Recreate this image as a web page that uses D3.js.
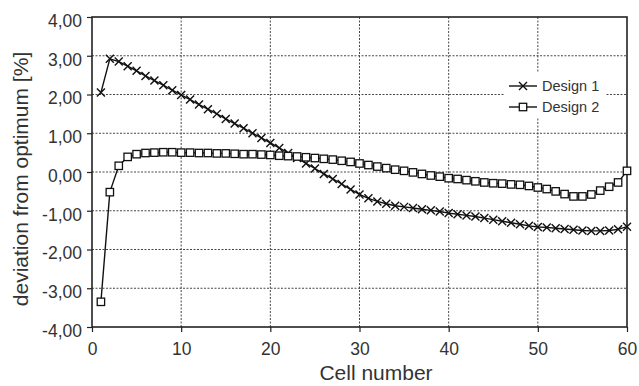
<!DOCTYPE html>
<html>
  <script src="https://cdn.jsdelivr.net/npm/d3@7"></script>
  <style>
    body { margin: 0; background: #fff; }
    text { font-family: "Liberation Sans", Arial, sans-serif; fill: #333; }
  </style>
  <body>
    <script>
var cells = d3.range(1, 61)
var design1 = [2.05, 2.92, 2.85, 2.73, 2.61, 2.48, 2.36, 2.24, 2.11, 1.99,
  1.87, 1.74, 1.62, 1.50, 1.37, 1.25, 1.13, 1.00, 0.88, 0.75,
  0.62, 0.49, 0.36, 0.22, 0.09, -0.05, -0.18, -0.31, -0.45, -0.58,
  -0.68, -0.76, -0.82, -0.87, -0.90, -0.93, -0.96, -0.99, -1.02, -1.06,
  -1.09, -1.12, -1.15, -1.19, -1.23, -1.27, -1.31, -1.35, -1.39, -1.42,
  -1.43, -1.45, -1.47, -1.49, -1.51, -1.52, -1.52, -1.51, -1.48, -1.41]
var design2 = [-3.35, -0.52, 0.16, 0.39, 0.46, 0.49, 0.50, 0.51, 0.51, 0.50,
  0.50, 0.49, 0.49, 0.48, 0.48, 0.47, 0.46, 0.46, 0.45, 0.44,
  0.42, 0.41, 0.40, 0.38, 0.36, 0.34, 0.32, 0.29, 0.26, 0.22,
  0.18, 0.14, 0.10, 0.06, 0.03, -0.01, -0.05, -0.09, -0.12, -0.16,
  -0.18, -0.21, -0.24, -0.27, -0.29, -0.30, -0.32, -0.33, -0.36, -0.40,
  -0.44, -0.50, -0.57, -0.63, -0.63, -0.58, -0.48, -0.38, -0.27, 0.03]
var xTicks = [0, 10, 20, 30, 40, 50, 60]
var yTicks = [-4, -3, -2, -1, 0, 1, 2, 3, 4]
var seriesNames = ['Design 1', 'Design 2']

var W = 639, H = 386
var m = { left: 92, right: 12, top: 17, bottom: 59 }
var svg = d3.select('body').append('svg').attr('width', W).attr('height', H)
var x = d3.scaleLinear().domain([0, 60]).range([m.left, W - m.right])
var y = d3.scaleLinear().domain([-4, 4]).range([H - m.bottom, m.top])
var fmt = function(d){ return d3.format('.2f')(d).replace('.', ',').replace('−', '-') }

// grid
var grid = svg.append('g').attr('stroke', '#333').attr('stroke-width', 0.9).attr('stroke-dasharray', '2,1.5')
grid.selectAll('.gx').data(xTicks.slice(1, -1)).enter().append('line')
  .attr('x1', x).attr('x2', x).attr('y1', y(-4)).attr('y2', y(4))
grid.selectAll('.gy').data(yTicks.slice(1, -1)).enter().append('line')
  .attr('y1', y).attr('y2', y).attr('x1', x(0)).attr('x2', x(60))

// legend background
var lg = svg.append('g').attr('transform', 'translate(505,72)')
lg.append('rect').attr('width', 101).attr('height', 46).attr('fill', '#fff')

// axes
var xAxis = svg.append('g').attr('transform', 'translate(0,' + y(-4) + ')')
  .call(d3.axisBottom(x).tickValues(xTicks).tickSize(5).tickPadding(11))
var yAxis = svg.append('g').attr('transform', 'translate(' + x(0) + ',0)')
  .call(d3.axisLeft(y).tickValues(yTicks).tickFormat(fmt).tickSize(5).tickPadding(5))
;[xAxis, yAxis].forEach(function(a){
  a.select('.domain').remove()
  a.selectAll('line').attr('stroke', '#222').attr('stroke-width', 1.2)
  a.selectAll('text').style('font-size', '17.5px').attr('fill', '#333')
})
yAxis.selectAll('text').attr('dy', '0.53em')
svg.append('rect').attr('x', x(0)).attr('y', y(4)).attr('width', x(60) - x(0)).attr('height', y(-4) - y(4))
  .attr('fill', 'none').attr('stroke', '#222').attr('stroke-width', 1.6)

// lines
var line = d3.line().x(function(d, i){ return x(cells[i]) }).y(function(d){ return y(d) })
;[design1, design2].forEach(function(s){
  svg.append('path').datum(s).attr('d', line).attr('fill', 'none').attr('stroke', '#111').attr('stroke-width', 1.4)
})

function cross(g, cx, cy){
  g.append('path').attr('d', 'M' + (cx - 4) + ',' + (cy - 4) + 'L' + (cx + 4) + ',' + (cy + 4) +
    'M' + (cx - 4) + ',' + (cy + 4) + 'L' + (cx + 4) + ',' + (cy - 4))
    .attr('stroke', '#111').attr('stroke-width', 1.4)
}
function square(g, cx, cy){
  g.append('rect').attr('x', cx - 3.7).attr('y', cy - 3.7).attr('width', 7.4).attr('height', 7.4)
    .attr('fill', '#fff').attr('stroke', '#111').attr('stroke-width', 1.3)
}
var mk1 = svg.append('g'), mk2 = svg.append('g')
design1.forEach(function(d, i){ cross(mk1, x(cells[i]), y(d)) })
design2.forEach(function(d, i){ square(mk2, x(cells[i]), y(d)) })

// legend
seriesNames.forEach(function(n, i){
  var yy = 14 + i * 21
  lg.append('line').attr('x1', 4).attr('x2', 32).attr('y1', yy).attr('y2', yy).attr('stroke', '#111').attr('stroke-width', 1.4)
  if (i === 0) cross(lg, 18, yy); else square(lg, 18, yy)
  lg.append('text').attr('x', 37).attr('y', yy + 5).style('font-size', '14.5px').text(n)
})

// titles
svg.append('text').attr('x', 376).attr('y', 380).attr('text-anchor', 'middle')
  .style('font-size', '21px').text('Cell number')
svg.append('text').attr('transform', 'translate(28,179) rotate(-90)').attr('text-anchor', 'middle')
  .style('font-size', '21px').text('deviation from optimum [%]')
    </script>
  </body>
</html>
